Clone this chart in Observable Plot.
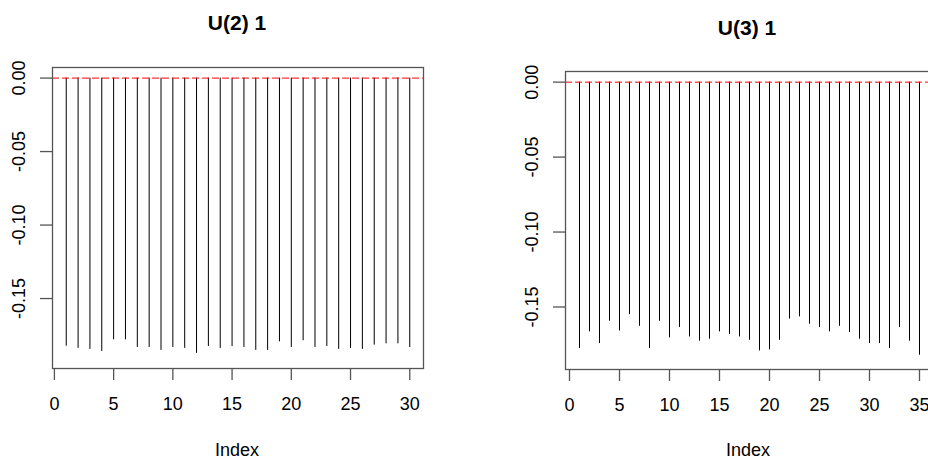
<!DOCTYPE html>
<html>
<head>
<meta charset="utf-8">
<script src="https://cdn.jsdelivr.net/npm/d3@7"></script>
<script src="https://cdn.jsdelivr.net/npm/@observablehq/plot@0.6"></script>
<style>
  html, body { margin: 0; padding: 0; background: #fff; }
  #wrap { position: relative; width: 928px; height: 459px; overflow: hidden; background: #fff; font-family: "Liberation Sans", Arial, sans-serif; }
  .panel { position: absolute; top: 0; }
  .lbl { position: absolute; transform: translate(-50%, -50%); line-height: 1; white-space: nowrap; color: #000; }
  .title { font-weight: bold; font-size: 21px; }
  .xlab { font-size: 18px; }
</style>
</head>
<body>
<div id="wrap"></div>
<script>
// ---- data ----
const titles = ["U(2) 1", "U(3) 1"];
const xLabel = "Index";

const u2Index = [1,2,3,4,5,6,7,8,9,10,11,12,13,14,15,16,17,18,19,20,21,22,23,24,25,26,27,28,29,30];
const u2Values = [-0.1824,-0.1839,-0.1846,-0.1860,-0.1781,-0.1781,-0.1833,-0.1833,-0.1853,-0.1833,
                  -0.1839,-0.1873,-0.1826,-0.1839,-0.1826,-0.1833,-0.1853,-0.1853,-0.1794,-0.1833,
                  -0.1787,-0.1833,-0.1826,-0.1846,-0.1839,-0.1846,-0.1817,-0.1808,-0.1808,-0.1833];

const u3Index = [1,2,3,4,5,6,7,8,9,10,11,12,13,14,15,16,17,18,19,20,21,22,23,24,25,26,27,28,29,30,31,32,33,34,35];
const u3Values = [-0.1777,-0.1666,-0.1744,-0.1595,-0.1660,-0.1551,-0.1629,-0.1777,-0.1595,-0.1706,
                  -0.1637,-0.1700,-0.1728,-0.1715,-0.1666,-0.1684,-0.1700,-0.1722,-0.1793,-0.1786,
                  -0.1722,-0.1580,-0.1566,-0.1615,-0.1637,-0.1666,-0.1629,-0.1671,-0.1715,-0.1744,
                  -0.1744,-0.1777,-0.1637,-0.1728,-0.1822];

const u2XTicks = [0,5,10,15,20,25,30];
const u3XTicks = [0,5,10,15,20,25,30,35];
const yTicks = [0, -0.05, -0.10, -0.15];
const yTickLabels = ["0.00", "-0.05", "-0.10", "-0.15"];

// ---- drawing ----
const wrap = document.getElementById("wrap");
const axisColor = "#555";
const font = "'Liberation Sans', Arial, sans-serif";

function panel({index, values, xTicks, xDomain, yDomain, width, margins, left}) {
  const data = index.map((i, k) => ({i, v: values[k]}));
  const p = Plot.plot({
    width, height: 459,
    marginLeft: margins[0], marginRight: margins[1], marginTop: margins[2], marginBottom: margins[3],
    style: {fontFamily: font, fontSize: "18px", color: "#000", background: "transparent", overflow: "visible"},
    x: {domain: xDomain},
    y: {domain: yDomain},
    marks: [
      Plot.ruleX(data, {x: "i", y1: 0, y2: "v", stroke: "#000", strokeWidth: 1}),
      Plot.ruleY([0], {stroke: "red", strokeDasharray: "7,3", strokeWidth: 1}),
      Plot.frame({stroke: axisColor, strokeWidth: 1.3}),
      Plot.axisX(xTicks, {tickSize: 12, tickPadding: 17, stroke: axisColor, strokeWidth: 1.3, fill: "#000", fontSize: 18, label: null}),
      Plot.axisY(yTicks, {tickSize: 12, tickPadding: 16, tickRotate: -90, stroke: axisColor, strokeWidth: 1.3, fill: "#000", fontSize: 18, label: null,
        tickFormat: d => yTickLabels[yTicks.indexOf(d)]})
    ]
  });
  p.classList.add("panel");
  p.style.left = left + "px";
  wrap.appendChild(p);
}

panel({index: u2Index, values: u2Values, xTicks: u2XTicks, xDomain: [-0.16, 31.16], yDomain: [-0.1976, 0.0072],
       width: 464, margins: [52, 41, 67, 91], left: 0});
panel({index: u3Index, values: u3Values, xTicks: u3XTicks, xDomain: [-0.4, 37.4], yDomain: [-0.1917, 0.0071],
       width: 519, margins: [101, 40, 71, 90], left: 464});

function label(text, cls, x, y) {
  const d = document.createElement("div");
  d.className = "lbl " + cls;
  d.textContent = text;
  d.style.left = x + "px";
  d.style.top = y + "px";
  wrap.appendChild(d);
}
label(titles[0], "title", 237, 22);
label(titles[1], "title", 747, 27);
label(xLabel, "xlab", 237, 450);
label(xLabel, "xlab", 748, 450);
</script>
</body>
</html>
